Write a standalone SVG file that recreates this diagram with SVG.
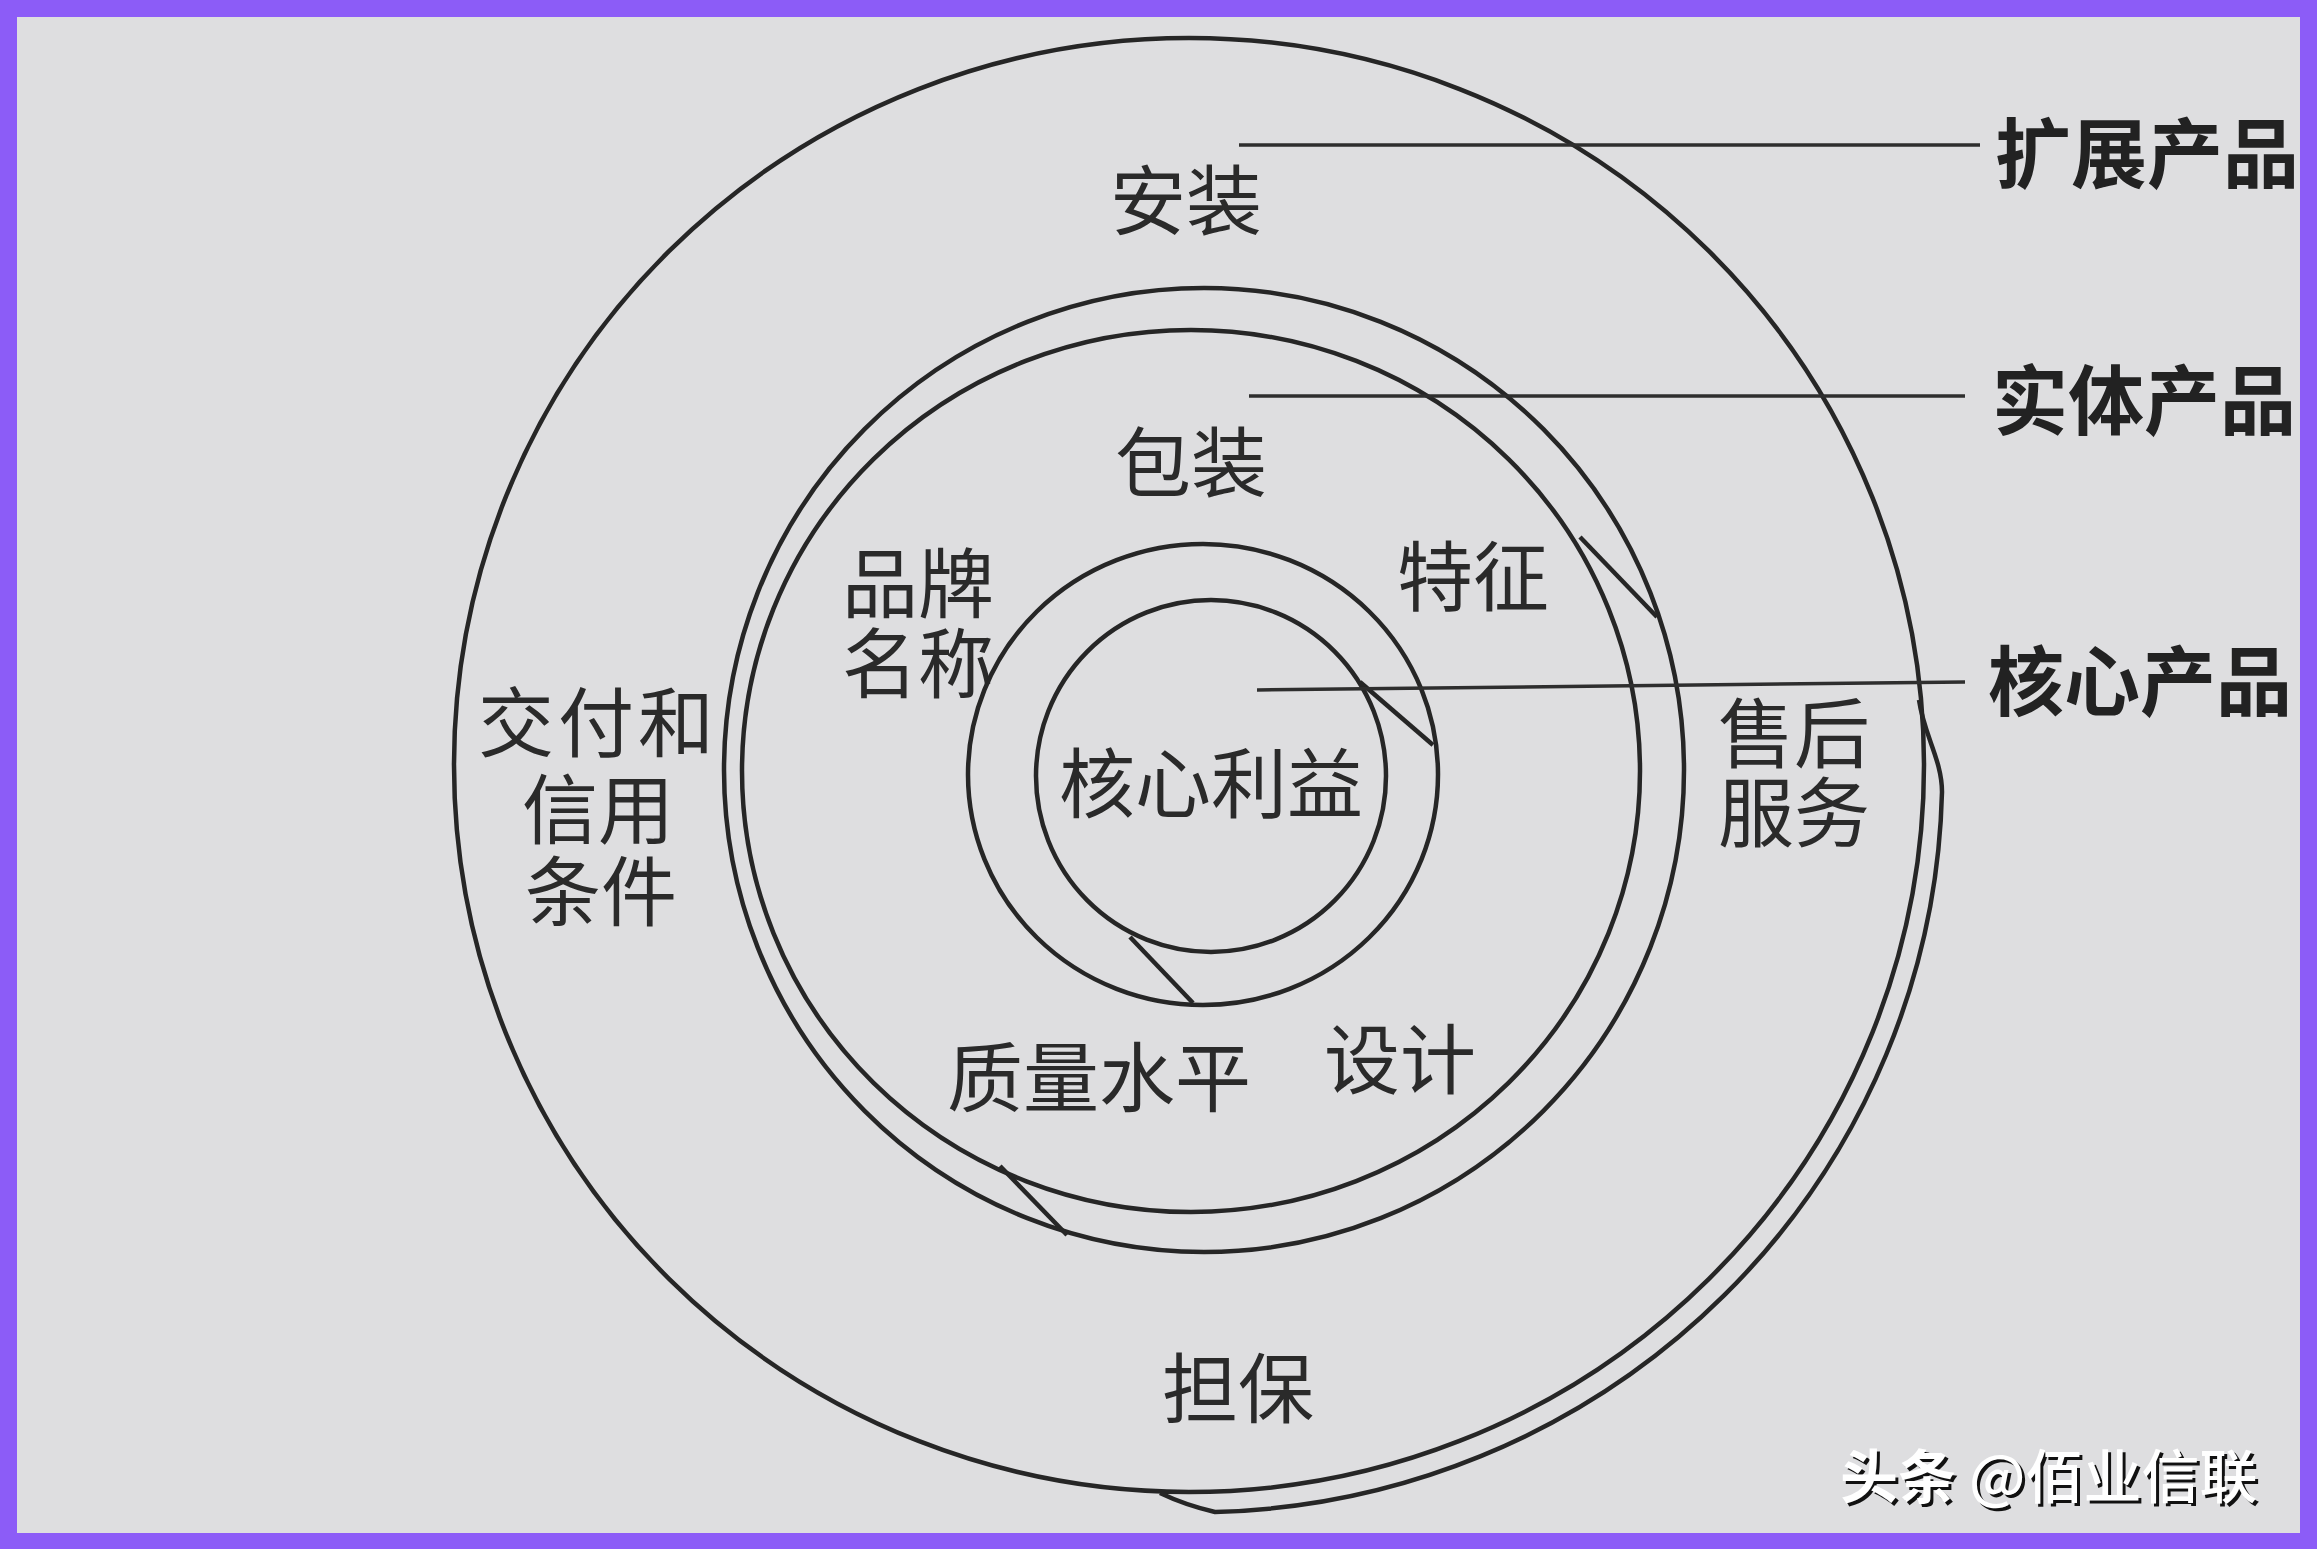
<svg xmlns="http://www.w3.org/2000/svg" width="2317" height="1549" viewBox="0 0 2317 1549">
<style>
.ring{fill:none;stroke:#262626;stroke-width:4.5}
.lead{fill:none;stroke:#2e2e2e;stroke-width:3.5}
.lbl{font-family:"Noto Sans CJK SC","Noto Sans",sans-serif;font-size:76px;fill:#2a2a2a;text-anchor:middle;dominant-baseline:central}
.tag{font-family:"Noto Sans CJK SC","Noto Sans",sans-serif;font-size:76px;font-weight:700;fill:#222;dominant-baseline:central}
.wm{font-family:"Noto Sans CJK SC","Noto Sans",sans-serif;font-size:58px;font-weight:500;dominant-baseline:central}
</style>
<rect width="2317" height="1549" fill="#8c5cf7"/>
<rect x="17" y="17" width="2283" height="1516" fill="#dedee0"/>

<g id="ring-extended">
  <ellipse class="ring" cx="1189" cy="765" rx="735" ry="727"/>
  <path class="ring" d="M1919 700 C1924 735 1942 760 1942 792 A747 738 0 0 1 1215 1512 Q1185 1505 1160 1493"/>
  <text class="lbl" x="1186" y="196">安装</text>
  <text class="lbl"><tspan x="598" y="718" letter-spacing="4">交付和</tspan><tspan x="598" y="805">信用</tspan><tspan x="601" y="887">条件</tspan></text>
  <text class="lbl"><tspan x="1794" y="729">售后</tspan><tspan x="1794" y="808">服务</tspan></text>
  <text class="lbl" x="1238" y="1384">担保</text>
</g>

<g id="ring-actual">
  <ellipse class="ring" cx="1204" cy="770" rx="480" ry="482"/>
  <ellipse class="ring" cx="1191" cy="771" rx="449" ry="441"/>
  <line class="ring" x1="1580" y1="537" x2="1657" y2="617"/>
  <line class="ring" x1="1000" y1="1166" x2="1067" y2="1235"/>
  <text class="lbl" x="1191" y="458">包装</text>
  <text class="lbl"><tspan x="918" y="579">品牌</tspan><tspan x="918" y="659">名称</tspan></text>
  <text class="lbl" x="1473" y="572">特征</text>
  <text class="lbl" x="1099" y="1073">质量水平</text>
  <text class="lbl" x="1400" y="1055">设计</text>
</g>

<g id="ring-core">
  <ellipse class="ring" cx="1203" cy="774.5" rx="235" ry="230.5"/>
  <ellipse class="ring" cx="1211" cy="776" rx="175" ry="176"/>
  <line class="ring" x1="1360" y1="682" x2="1433" y2="745"/>
  <line class="ring" x1="1130" y1="937" x2="1193" y2="1003"/>
  <text class="lbl" x="1211" y="779">核心利益</text>
</g>

<g id="connectors">
  <line class="lead" x1="1239" y1="145" x2="1980" y2="145"/>
  <line class="lead" x1="1249" y1="396" x2="1965" y2="396"/>
  <line class="lead" x1="1257" y1="690" x2="1965" y2="682"/>
</g>

<g id="tag-extended"><text class="tag" x="1995" y="149">扩展产品</text></g>
<g id="tag-actual"><text class="tag" x="1992" y="396">实体产品</text></g>
<g id="tag-core"><text class="tag" x="1988" y="677">核心产品</text></g>

<g id="watermark">
  <text class="wm" x="1843" y="1476" fill="#111111"><tspan font-weight="700">头条</tspan> @佰业信联</text>
  <text class="wm" x="1840" y="1473" fill="#ffffff"><tspan font-weight="700">头条</tspan> @佰业信联</text>
</g>
</svg>
